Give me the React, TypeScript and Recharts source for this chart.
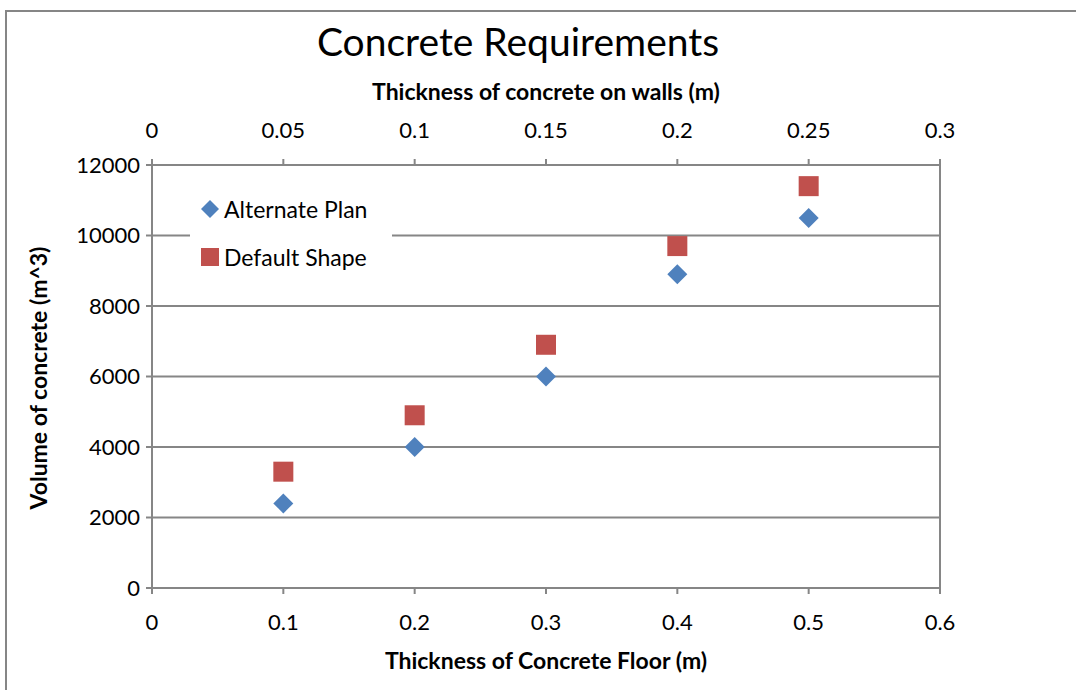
import { CartesianGrid, Legend, ReferenceLine, Scatter, ScatterChart, XAxis, YAxis } from 'recharts';

// Alternate Plan is plotted on the floor axis, Default Shape on the wall axis (secondary)
const floorThickness = [0.1, 0.2, 0.3, 0.4, 0.5];
const wallThickness = [0.05, 0.1, 0.15, 0.2, 0.25];
const alternatePlan = [2400, 4000, 6000, 8900, 10500];
const defaultShape = [3300, 4900, 6900, 9700, 11400];

const floorTicks = [0, 0.1, 0.2, 0.3, 0.4, 0.5, 0.6];
const wallTicks = [0, 0.05, 0.1, 0.15, 0.2, 0.25, 0.3];
const volumeTicks = [0, 2000, 4000, 6000, 8000, 10000, 12000];

const altData = floorThickness.map((x, i) => ({ x, y: alternatePlan[i] }));
const defData = wallThickness.map((x, i) => ({ x, y: defaultShape[i] }));

const BLUE = '#4F81BD';
const RED = '#C0504D';
const GREY = '#868686';
const FONT = 'Lato, "Open Sans", sans-serif';
const tickStyle = { fill: '#000', fontSize: 22, fontFamily: FONT };

function Diamond({ cx, cy }: any) {
  const r = 10;
  return <polygon points={`${cx},${cy - r} ${cx + r},${cy} ${cx},${cy + r} ${cx - r},${cy}`} fill={BLUE} />;
}

function Square({ cx, cy }: any) {
  return <rect x={cx - 10} y={cy - 10} width={20} height={20} fill={RED} />;
}

function LegendBox() {
  const item = (shape: 'diamond' | 'square', label: string) => (
    <div style={{ display: 'flex', alignItems: 'center', height: 48 }}>
      <svg width={20} height={20} style={{ marginRight: 4 }}>
        {shape === 'diamond' ? (
          <polygon points="10,1 19,10 10,19 1,10" fill={BLUE} />
        ) : (
          <rect x={1} y={1} width={18} height={18} fill={RED} />
        )}
      </svg>
      <span style={{ fontSize: 23, color: '#000', fontFamily: FONT }}>{label}</span>
    </div>
  );
  return (
    <div style={{ background: '#fff', padding: '0 12px 0 10px', width: 180 }}>
      {item('diamond', 'Alternate Plan')}
      {item('square', 'Default Shape')}
    </div>
  );
}

export default function App() {
  return (
    <div style={{ position: 'relative', width: 1076, height: 690, overflow: 'hidden', background: '#fff', fontFamily: FONT }}>
      <style>{`body{margin:0}`}</style>
      <div
        style={{
          position: 'absolute',
          left: 5,
          top: 10,
          width: 1200,
          height: 800,
          border: `2px solid ${GREY}`,
          boxSizing: 'border-box',
        }}
      />
      <div style={{ position: 'absolute', left: 0, top: 18, width: 1076, textAlign: 'center', paddingRight: 40, boxSizing: 'border-box', fontSize: 39, color: '#000' }}>
        Concrete Requirements
      </div>
      <div style={{ position: 'absolute', left: 0, top: 77, width: 1092, textAlign: 'center', fontSize: 23, fontWeight: 700, color: '#000' }}>
        Thickness of concrete on walls (m)
      </div>
      <div style={{ position: 'absolute', left: 0, top: 646, width: 1092, textAlign: 'center', fontSize: 23, fontWeight: 700, color: '#000' }}>
        Thickness of Concrete Floor (m)
      </div>
      <div
        style={{
          position: 'absolute',
          left: 38,
          top: 378,
          transform: 'translate(-50%, -50%) rotate(-90deg)',
          whiteSpace: 'nowrap',
          fontSize: 23,
          fontWeight: 700,
          color: '#000',
        }}
      >
        Volume of concrete (m^3)
      </div>
      <div style={{ position: 'absolute', left: 0, top: 0 }}>
        <ScatterChart width={1076} height={690} margin={{ top: 125, right: 136, bottom: 62, left: 92 }}>
          <CartesianGrid xAxisId="floor" horizontal vertical={false} stroke={GREY} strokeWidth={2} />
          <XAxis
            xAxisId="floor"
            dataKey="x"
            type="number"
            domain={[0, 0.6]}
            ticks={floorTicks}
            height={40}
            stroke={GREY}
            strokeWidth={2}
            tickSize={6}
            tickMargin={20}
            tick={tickStyle}
            interval={0}
          />
          <XAxis
            xAxisId="walls"
            dataKey="x"
            orientation="top"
            type="number"
            domain={[0, 0.3]}
            ticks={wallTicks}
            height={40}
            stroke={GREY}
            strokeWidth={2}
            tickSize={6}
            tickMargin={21}
            tick={tickStyle}
            interval={0}
          />
          <YAxis
            dataKey="y"
            type="number"
            domain={[0, 12000]}
            ticks={volumeTicks}
            width={60}
            stroke={GREY}
            strokeWidth={2}
            tickSize={6}
            tickMargin={6}
            tick={tickStyle}
            interval={0}
          />
          <ReferenceLine xAxisId="floor" x={0.6} stroke={GREY} strokeWidth={2} />
          <Legend
            layout="vertical"
            align="center"
            verticalAlign="middle"
            content={<LegendBox />}
            wrapperStyle={{ left: 190, top: 185, width: 'auto' }}
          />
          <Scatter name="Alternate Plan" xAxisId="floor" data={altData} shape={<Diamond />} isAnimationActive={false} />
          <Scatter name="Default Shape" xAxisId="walls" data={defData} shape={<Square />} isAnimationActive={false} />
        </ScatterChart>
      </div>
    </div>
  );
}
